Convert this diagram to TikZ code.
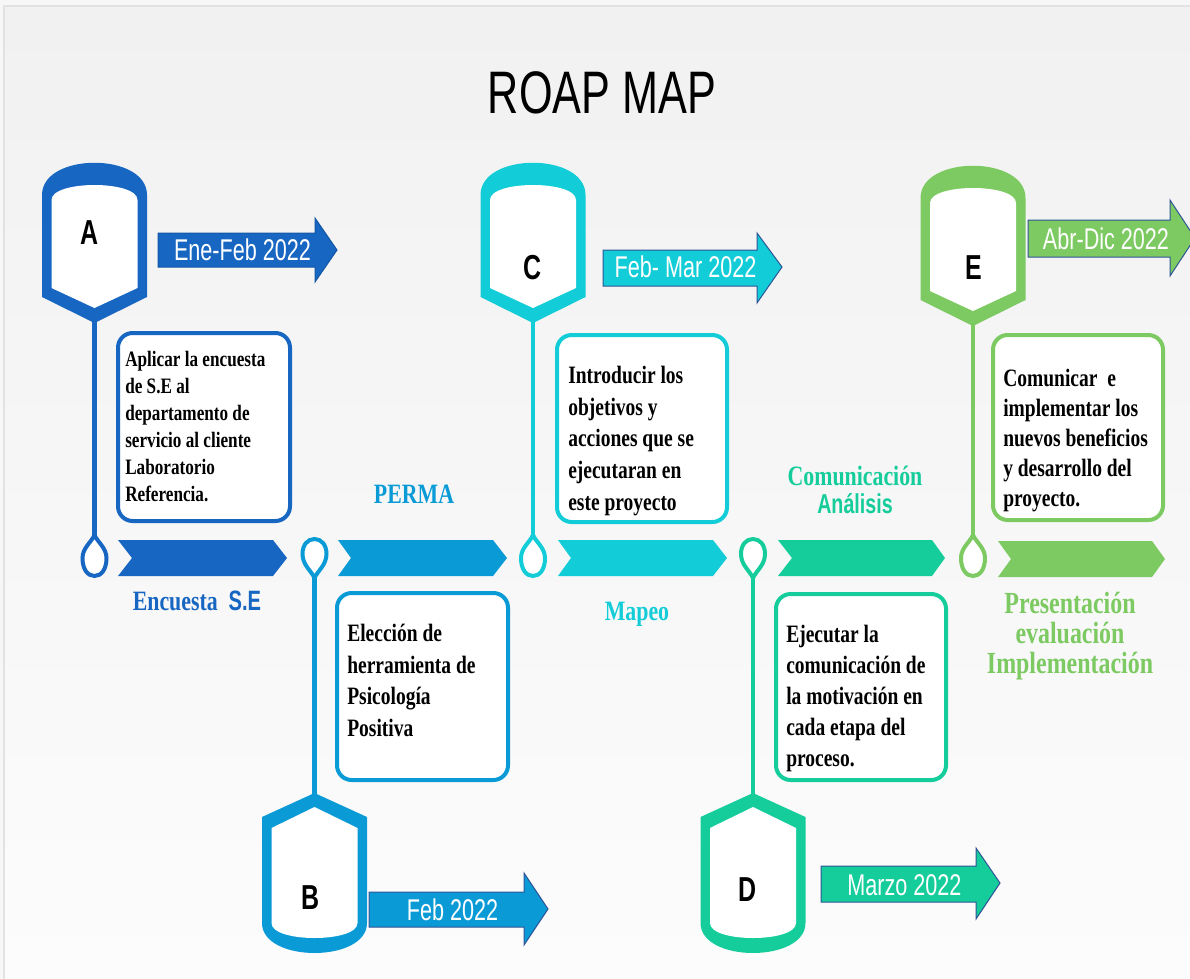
\documentclass[tikz,border=0pt]{standalone}
\usepackage{fontspec}
\setmainfont{Liberation Serif}
\newfontfamily\cserif[FakeStretch=0.78]{Liberation Serif}
\newfontfamily\csans[FakeStretch=0.72]{Liberation Sans}
\usetikzlibrary{fit}
\definecolor{cA}{HTML}{1766C2}
\definecolor{cB}{HTML}{0A9BD7}
\definecolor{cC}{HTML}{12CCD7}
\definecolor{cD}{HTML}{15CD9B}
\definecolor{cE}{HTML}{7CCA61}
\definecolor{cOut}{HTML}{2F5597}
\definecolor{bgtop}{HTML}{F1F1F1}
\definecolor{bgbot}{HTML}{FCFCFD}
\definecolor{frame}{HTML}{E2E2E2}

\newcommand{\mybadgetop}[3]{% cx, dy, colour
  \fill[#3] (#1-52.5,195+#2) .. controls (#1-52.5,152+#2) and (#1+52.5,152+#2) .. (#1+52.5,195+#2) -- (#1+52.5,297+#2) -- (#1,323+#2) -- (#1-52.5,297+#2) -- cycle;
  \fill[white] (#1-43,200+#2) .. controls (#1-43,180+#2) and (#1+43,180+#2) .. (#1+43,200+#2) -- (#1+43,288+#2) -- (#1,308+#2) -- (#1-43,288+#2) -- cycle;
}
\newcommand{\mybadgebot}[2]{% cx, colour
  \fill[#2] (#1,793) -- (#1+52.5,817) -- (#1+52.5,923) .. controls (#1+52.5,963) and (#1-52.5,963) .. (#1-52.5,923) -- (#1-52.5,817) -- cycle;
  \fill[white] (#1,807) -- (#1+43,828) -- (#1+43,923) .. controls (#1+43,943) and (#1-43,943) .. (#1-43,923) -- (#1-43,828) -- cycle;
}
\newcommand{\mypinup}[2]{% cx, colour
  \draw[#2, line width=3pt, fill=white] (#1,535) .. controls (#1+3,542) and (#1+12,548) .. (#1+12,558) .. controls (#1+12,569) and (#1+7,576) .. (#1,576) .. controls (#1-7,576) and (#1-12,569) .. (#1-12,558) .. controls (#1-12,548) and (#1-3,542) .. cycle;
}
\newcommand{\mypindown}[2]{% cx, colour
  \draw[#2, line width=3pt, fill=white] (#1,578) .. controls (#1+3,571) and (#1+12,565) .. (#1+12,554) .. controls (#1+12,545) and (#1+7,539) .. (#1,539) .. controls (#1-7,539) and (#1-12,545) .. (#1-12,554) .. controls (#1-12,565) and (#1-3,571) .. cycle;
}

\begin{document}
\begin{tikzpicture}[x=0.75pt,y=-0.75pt,
  conn/.style={line width=3.2pt},
  boxst/.style={draw, line width=3pt, rounded corners=11pt, fill=white, inner sep=0pt},
  boxtext/.style={anchor=north west, inner sep=0pt, align=left, text=black},
  bigtext/.style={font=\cserif\bfseries\fontsize{18.75}{23.7}\selectfont},
  datearr/.style={line width=0.75pt, draw=cOut},
  datetext/.style={text=white, inner sep=0pt, font=\csans\fontsize{22.5}{27}\selectfont},
  letter/.style={inner sep=0pt, text=black, font=\csans\bfseries\fontsize{26}{30}\selectfont},
  lbl/.style={inner sep=0pt, font=\cserif\bfseries\fontsize{21}{25}\selectfont}
]
\useasboundingbox (0,0) rectangle (1190,979);
% background
\fill[white!97!black] (0,0) rectangle (1190,979);
\shade[top color=bgtop, bottom color=bgbot] (4,6) rectangle (1190,979);
\draw[frame, line width=1.5pt] (4,979) -- (4,6) -- (1190,6);

% title
\node[inner sep=0pt, font=\csans\fontsize{45}{50}\selectfont] (title) at (602,93) {ROAP MAP};

% connector end points
\coordinate (Abadge) at (94.5,318); \coordinate (Apin) at (94.5,538);
\coordinate (Cbadge) at (533,318);  \coordinate (Cpin) at (533,538);
\coordinate (Ebadge) at (973,321);  \coordinate (Epin) at (973,538);
\coordinate (Bpin) at (314.5,576);  \coordinate (Bbadge) at (314.5,797);
\coordinate (Dpin) at (753,576);    \coordinate (Dbadge) at (753,797);

\draw[conn, cA] (Abadge) -- (Apin);
\draw[conn, cC] (Cbadge) -- (Cpin);
\draw[conn, cE] (Ebadge) -- (Epin);
\draw[conn, cB] (Bpin) -- (Bbadge);
\draw[conn, cD] (Dpin) -- (Dbadge);

% badges
\mybadgetop{94.5}{0}{cA}
\mybadgetop{533}{0}{cC}
\mybadgetop{973}{3}{cE}
\mybadgebot{314.5}{cB}
\mybadgebot{753}{cD}

\node[letter] (A) at (90,233) {A};
\node[letter] (C) at (533,268) {C};
\node[letter] (E) at (974,268) {E};
\node[letter] (B) at (311,898) {B};
\node[letter] (D) at (748,890) {D};

% pins
\mypinup{94.5}{cA}
\mypindown{314.5}{cB}
\mypinup{533}{cC}
\mypindown{753}{cD}
\mypinup{973}{cE}

% chevrons
\fill[cA] (118,540) -- (273,540) -- (287,558) -- (273,576) -- (118,576) -- (132,558) -- cycle;
\fill[cB] (338,540) -- (493,540) -- (507,558) -- (493,576) -- (338,576) -- (351,558) -- cycle;
\fill[cC] (558,540) -- (713,540) -- (727,558) -- (713,576) -- (558,576) -- (571,558) -- cycle;
\fill[cD] (778,540) -- (932,540) -- (945,558) -- (932,576) -- (778,576) -- (792,558) -- cycle;
\fill[cE] (998,541) -- (1152,541) -- (1165,559) -- (1152,577) -- (998,577) -- (1011,559) -- cycle;

% text boxes
\node[boxst, draw=cA, fit={(118,333)(290,521)}] (boxA) {};
\node[boxst, draw=cB, fit={(337,593)(508,780)}] (boxB) {};
\node[boxst, draw=cC, fit={(557,335)(727,522)}] (boxC) {};
\node[boxst, draw=cD, fit={(776,594)(946,780)}] (boxD) {};
\node[boxst, draw=cE, fit={(993,335)(1163,520)}] (boxE) {};

\node[boxtext, font=\cserif\bfseries\fontsize{16.5}{20.25}\selectfont] (tA) at (125,351)
  {Aplicar la encuesta\\de S.E al\\departamento de\\servicio al cliente\\Laboratorio\\Referencia.};
\node[boxtext, bigtext] (tB) at (347,624)
  {Elección de\\herramienta de\\Psicología\\Positiva};
\node[boxtext, bigtext] (tC) at (568,366)
  {Introducir los\\objetivos y\\acciones que se\\ejecutaran en\\este proyecto};
\node[boxtext, font=\cserif\bfseries\fontsize{18.75}{23.25}\selectfont] (tD) at (786,625)
  {Ejecutar la\\comunicación de\\la motivación en\\cada etapa del\\proceso.};
\node[boxtext, font=\cserif\bfseries\fontsize{18.75}{22.5}\selectfont] (tE) at (1003,369)
  {Comunicar\ \ e\\implementar los\\nuevos beneficios\\y desarrollo del\\proyecto.};

% stage labels
\node[lbl, text=cA, anchor=base] (lA) at (197,610) {Encuesta\ \ {\csans S.E}};
\node[lbl, text=cB, anchor=base] (lB) at (414,503) {PERMA};
\node[lbl, text=cC, anchor=base] (lC) at (637,620) {Mapeo};
\node[lbl, text=cD, anchor=base] (lD1) at (855,485) {Comunicación};
\node[inner sep=0pt, text=cD, anchor=base, font=\csans\bfseries\fontsize{20.5}{24}\selectfont] (lD2) at (855,513) {Análisis};
\node[inner sep=0pt, text=cE, anchor=north, align=center, font=\cserif\bfseries\fontsize{23}{22.5}\selectfont] (lE) at (1070,592)
  {Presentación\\evaluación\\Implementación};

% date arrows
\filldraw[datearr, fill=cA, draw=cA!85!black] (158,233) -- (315,233) -- (315,218) -- (337,250) -- (315,282) -- (315,267) -- (158,267) -- cycle;
\filldraw[datearr, fill=cC] (603,250) -- (757,250) -- (757,233) -- (782,267) -- (757,303) -- (757,286) -- (603,286) -- cycle;
\filldraw[datearr, fill=cE] (1028,220) -- (1170,220) -- (1170,200) -- (1195,238) -- (1170,276) -- (1170,257) -- (1028,257) -- cycle;
\filldraw[datearr, fill=cB] (369,892) -- (524,892) -- (524,873) -- (548,909) -- (524,945) -- (524,927) -- (369,927) -- cycle;
\filldraw[datearr, fill=cD] (821,866) -- (976,866) -- (976,848) -- (1000,883) -- (976,919) -- (976,902) -- (821,902) -- cycle;

\node[datetext] (dA) at (242.5,250) {Ene-Feb 2022};
\node[datetext] (dC) at (685.5,267) {Feb- Mar 2022};
\node[datetext] (dE) at (1106,239) {Abr-Dic 2022};
\node[datetext] (dB) at (452.5,910) {Feb 2022};
\node[datetext] (dD) at (904.5,885) {Marzo 2022};
\end{tikzpicture}
\end{document}
